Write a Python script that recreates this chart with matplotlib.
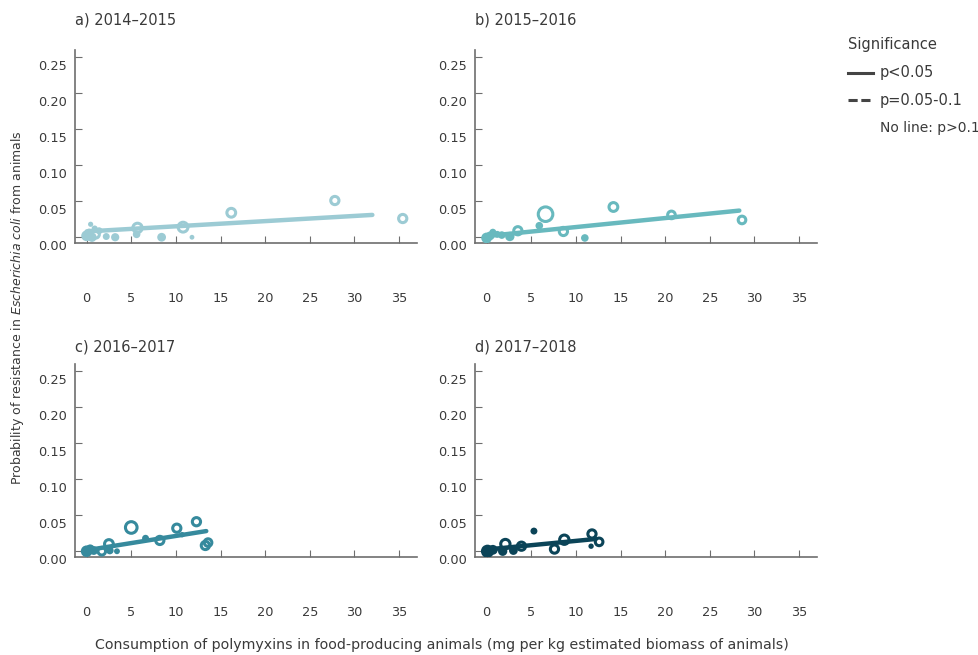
import matplotlib
matplotlib.use("Agg")
import matplotlib.pyplot as plt
import matplotlib.transforms as mtransforms
from matplotlib.lines import Line2D
import numpy as np

# panel titles and colours
titles = ["a) 2014\u20132015", "b) 2015\u20132016", "c) 2016\u20132017", "d) 2017\u20132018"]
colors = ["#9ccbd4", "#68b9be", "#368a9d", "#0b4458"]

# points: consumption (x), resistance probability (y), size, open marker?
a_x = [0.0, 0.3, 0.6, 1.0, 1.4, 0.45, 0.9, 2.2, 3.2, 5.6, 5.7, 8.4, 10.8, 11.8, 16.2, 27.8, 35.4]
a_y = [0.002, 0.006, 0.0, 0.004, 0.009, 0.018, 0.012, 0.001, 0.0, 0.004, 0.013, 0.0, 0.014, 0.0, 0.034, 0.051, 0.026]
a_s = [60, 40, 45, 30, 25, 14, 20, 25, 35, 30, 45, 40, 50, 12, 40, 35, 35]
a_open = [0, 0, 0, 1, 0, 0, 0, 0, 0, 0, 1, 0, 1, 0, 1, 1, 1]

b_x = [0.0, 0.4, 0.7, 1.2, 1.7, 2.6, 3.5, 5.9, 6.6, 8.6, 11.0, 14.2, 20.7, 28.6]
b_y = [-0.001, 0.002, 0.007, 0.004, 0.003, 0.001, 0.009, 0.016, 0.032, 0.008, -0.001, 0.042, 0.031, 0.024]
b_s = [60, 40, 25, 25, 30, 45, 35, 30, 110, 35, 30, 40, 30, 30]
b_open = [0, 0, 0, 0, 0, 0, 1, 0, 1, 1, 0, 1, 1, 1]

c_x = [0.0, 0.4, 0.8, 1.7, 2.5, 2.6, 3.4, 5.0, 6.6, 8.2, 10.1, 10.7, 12.3, 13.3, 13.6]
c_y = [0.0, 0.003, 0.001, 0.0, 0.010, 0.001, 0.0, 0.033, 0.018, 0.015, 0.032, 0.023, 0.041, 0.008, 0.012]
c_s = [70, 45, 40, 30, 40, 30, 18, 70, 25, 35, 35, 15, 35, 35, 30]
c_open = [0, 0, 0, 1, 1, 0, 0, 1, 0, 1, 1, 0, 1, 1, 1]

d_x = [0.1, 0.7, 1.8, 2.1, 3.0, 3.9, 5.3, 7.6, 8.7, 11.7, 11.8, 12.6]
d_y = [0.0, 0.002, 0.0, 0.010, 0.001, 0.007, 0.028, 0.003, 0.016, 0.007, 0.024, 0.013]
d_s = [90, 50, 45, 45, 40, 35, 25, 35, 45, 15, 35, 30]
d_open = [0, 0, 0, 1, 0, 1, 0, 1, 1, 0, 1, 1]

# fitted trend lines (start, end)
line_x = [[0.0, 32.0], [0.3, 28.3], [0.3, 13.4], [0.5, 12.2]]
line_y = [[0.008, 0.031], [0.002, 0.037], [0.002, 0.028], [0.003, 0.017]]

xs = [a_x, b_x, c_x, d_x]
ys = [a_y, b_y, c_y, d_y]
ss = [a_s, b_s, c_s, d_s]
opens = [a_open, b_open, c_open, d_open]

plt.rcParams["font.family"] = ["DejaVu Sans"]
text_color = "#3a3a3a"
axis_color = "#6e6e6e"

fig = plt.figure(figsize=(9.79, 6.55), dpi=100)

W, H = 979.0, 655.0
lefts = [75, 475, 75, 475]
bottoms = [243, 243, 557, 557]
title_y = [20, 20, 347, 347]
aw, ah = 342, 193

for i in range(4):
    ax = fig.add_axes([lefts[i] / W, 1 - bottoms[i] / H, aw / W, ah / H])
    col = colors[i]
    ax.plot(line_x[i], line_y[i], color=col, lw=3.2, solid_capstyle="round", zorder=2)
    x = np.array(xs[i])
    y = np.array(ys[i])
    s = np.array(ss[i])
    o = np.array(opens[i]).astype(bool)
    ax.scatter(x[~o], y[~o], s=s[~o], color=col, edgecolors="none", zorder=3)
    ax.scatter(x[o], y[o], s=s[o], facecolors="none", edgecolors=col, linewidths=2.2, zorder=3)

    ax.set_xlim(-1.3, 37)
    ax.set_ylim(-0.008, 0.26)
    ax.set_xticks(np.arange(0, 36, 5))
    ax.set_yticks(np.arange(0, 0.26, 0.05))
    ax.set_yticklabels([f"{v:.2f}" for v in np.arange(0, 0.26, 0.05)])
    ax.spines["top"].set_visible(False)
    ax.spines["right"].set_visible(False)
    for sp in ["left", "bottom"]:
        ax.spines[sp].set_color(axis_color)
        ax.spines[sp].set_linewidth(1.2)
    ax.tick_params(axis="x", direction="in", length=5, color=axis_color,
                   labelcolor=text_color, labelsize=9.3, pad=35)
    ax.tick_params(axis="y", direction="in", length=5, color=axis_color,
                   labelcolor=text_color, labelsize=9.3, pad=6)
    offset = mtransforms.ScaledTranslation(0, -8 / 100, fig.dpi_scale_trans)
    for lab in ax.get_yticklabels():
        lab.set_transform(lab.get_transform() + offset)
    ax.set_facecolor("none")
    fig.text(lefts[i] / W, 1 - title_y[i] / H, titles[i], fontsize=10.5,
             color=text_color, va="center", ha="left")

fig.text(18 / W, 1 - 308 / H,
         "Probability of resistance in $\\it{Escherichia\\ coli}$ from animals",
         rotation=90, va="center", ha="center", fontsize=9, color=text_color)
fig.text(442 / W, 1 - 645 / H,
         "Consumption of polymyxins in food-producing animals (mg per kg estimated biomass of animals)",
         va="center", ha="center", fontsize=10.2, color=text_color)

# significance legend
legend_color = "#444444"
fig.text(848 / W, 1 - 44 / H, "Significance", fontsize=10.5, color=text_color, va="center")
fig.add_artist(Line2D([848 / W, 873 / W], [1 - 73 / H] * 2, color=legend_color, lw=2.2))
fig.text(880 / W, 1 - 73 / H, "p<0.05", fontsize=10.5, color=text_color, va="center")
fig.add_artist(Line2D([848 / W, 873 / W], [1 - 100 / H] * 2, color=legend_color, lw=2.2,
                      ls=(0, (3, 1.2))))
fig.text(880 / W, 1 - 100 / H, "p=0.05-0.1", fontsize=10.5, color=text_color, va="center")
fig.text(880 / W, 1 - 128 / H, "No line: p>0.1", fontsize=10, color=text_color, va="center")

fig.savefig("out.png", dpi=100)
